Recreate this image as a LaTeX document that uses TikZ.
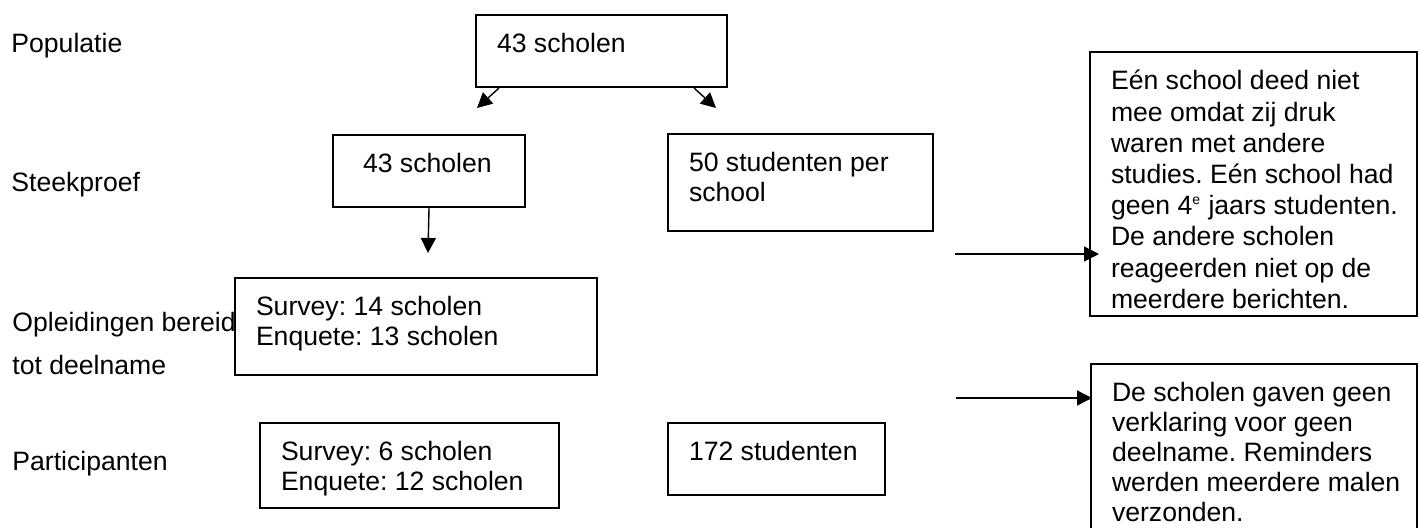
\documentclass[tikz,border=0pt]{standalone}
\usepackage{fontspec}
\setmainfont{Liberation Sans}
\usetikzlibrary{arrows.meta}

% text box with fixed inner size, text at the top, lines only broken by \\
\newcommand{\vak}[3]{\makebox[#1][l]{\parbox[t][#2][t]{250pt}{\raggedright\frenchspacing\strut#3}}}

\tikzset{
  blok/.style={draw, line width=1pt, anchor=north west, inner xsep=10.5pt, inner ysep=8pt},
  rij/.style={anchor=base west, inner sep=0pt},
  pijl/.style={-{Triangle[length=7.5pt,width=7.5pt]}, line width=0.7pt}
}

\begin{document}
\begin{tikzpicture}[x=0.5pt, y=-0.5pt, font=\fontsize{13.3pt}{15pt}\selectfont]
\useasboundingbox (0,0) rectangle (1418,527);
\clip (0,0) rectangle (1418,527);

% row labels
\node[rij] (lblPop) at (11,52) {Populatie};
\node[rij] (lblSteek) at (11,191) {Steekproef};
\node[rij] (lblBereid) at (12,331) {Opleidingen bereid};
\node[rij] (lblDeel) at (12,374) {tot deelname};
\node[rij] (lblPart) at (12,470) {Participanten};

% boxes
\node[blok] (pop) at (475,14) {\vak{104.5pt}{20pt}{43 scholen}};
\node[blok] (steek) at (332,134) {\vak{75pt}{20pt}{\hspace*{4.5pt}43 scholen}};
\node[blok] (studPer) at (667,133) {\vak{111.5pt}{32.5pt}{50 studenten per\\school}};
\node[blok] (bereid) at (234,277) {\vak{160pt}{32.5pt}{Survey: 14 scholen\\Enquete: 13 scholen}};
\node[blok] (deeln) at (259,422) {\vak{128.5pt}{26.5pt}{Survey: 6 scholen\\Enquete: 12 scholen}};
\node[blok] (stud) at (667,422) {\vak{87.5pt}{20pt}{172 studenten}};
\node[blok] (uitleg1) at (1089,51) {\vak{142.5pt}{116pt}{\fontsize{13.3pt}{15.6pt}\selectfont\strut
  Eén school deed niet\\mee omdat zij druk\\waren met andere\\studies. Eén school had\\geen 4\textsuperscript{\scriptsize e} jaars studenten.\\De andere scholen\\reageerden niet op de\\meerdere berichten.}};
\node[blok] (uitleg2) at (1090,363) {\vak{142pt}{84pt}{De scholen gaven geen\\verklaring voor geen\\deelname. Reminders\\werden meerdere malen\\verzonden.}};

% free arrow ends
\coordinate (naarL) at (477,108);
\coordinate (naarR) at (716,108);
\coordinate (naarO) at (428,253);
\coordinate (van1) at (955,254);
\coordinate (van2) at (956,398);

% arrows
\draw[pijl] ([xshift=12pt]pop.south west) -- (naarL);
\draw[pijl] ([xshift=-17pt]pop.south east) -- (naarR);
\draw[pijl] (steek.south) -- (naarO);
\draw[pijl, shorten >=-5pt] (van1) -- (uitleg1.west |- van1);
\draw[pijl, shorten >=-1pt] (van2) -- (uitleg2.west |- van2);
\end{tikzpicture}
\end{document}
